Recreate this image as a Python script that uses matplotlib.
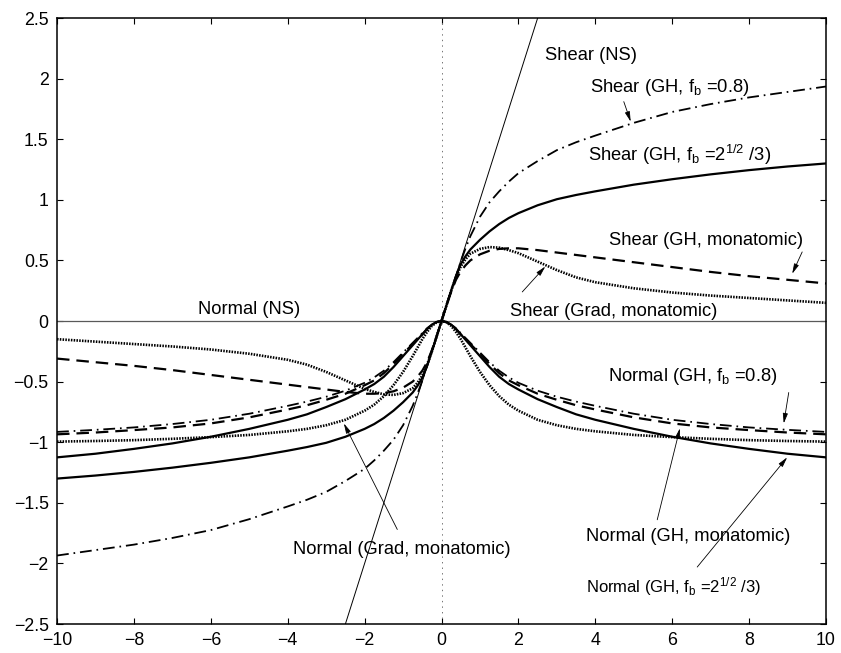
import matplotlib as mpl
import matplotlib.pyplot as plt
from matplotlib.ticker import FuncFormatter

# values for x >= 0; shear curves are odd, normal curves even
X_POS = [0, 0.125, 0.25, 0.375, 0.5, 0.625, 0.75, 1, 1.25, 1.5, 1.75, 2,
         2.5, 3, 3.5, 4, 5, 6, 7, 8, 9, 10]

SHEAR_GH_FB08 = [0, 0.125, 0.25, 0.37, 0.49, 0.60, 0.70, 0.86, 0.98, 1.07, 1.15, 1.22,
                 1.32, 1.41, 1.475, 1.53, 1.635, 1.725, 1.79, 1.845, 1.89, 1.935]
SHEAR_GH_FBSQ = [0, 0.125, 0.25, 0.37, 0.47, 0.535, 0.59, 0.67, 0.74, 0.80, 0.85, 0.89,
                 0.955, 1.005, 1.04, 1.07, 1.125, 1.17, 1.21, 1.245, 1.275, 1.30]
SHEAR_GH_MONO = [0, 0.125, 0.24, 0.34, 0.41, 0.46, 0.50, 0.55, 0.58, 0.595, 0.60, 0.60,
                 0.585, 0.565, 0.545, 0.525, 0.485, 0.445, 0.405, 0.37, 0.34, 0.31]
SHEAR_GRAD_MONO = [0, 0.125, 0.25, 0.36, 0.45, 0.51, 0.555, 0.595, 0.61, 0.605, 0.585, 0.56,
                   0.49, 0.42, 0.36, 0.32, 0.27, 0.235, 0.21, 0.19, 0.17, 0.15]

NORMAL_GH_FB08 = [0, -0.008, -0.03, -0.06, -0.10, -0.14, -0.18, -0.26, -0.34, -0.41, -0.465, -0.51,
                  -0.575, -0.625, -0.665, -0.70, -0.765, -0.815, -0.85, -0.878, -0.898, -0.915]
NORMAL_GH_FBSQ = [0, -0.008, -0.03, -0.065, -0.11, -0.155, -0.20, -0.29, -0.38, -0.46, -0.52, -0.565,
                  -0.645, -0.71, -0.77, -0.815, -0.89, -0.955, -1.01, -1.055, -1.095, -1.125]
NORMAL_GH_MONO = [0, -0.008, -0.03, -0.065, -0.11, -0.15, -0.19, -0.27, -0.355, -0.43, -0.49, -0.53,
                  -0.60, -0.65, -0.695, -0.73, -0.795, -0.845, -0.878, -0.90, -0.92, -0.935]
NORMAL_GRAD_MONO = [0, -0.01, -0.04, -0.09, -0.15, -0.22, -0.29, -0.42, -0.53, -0.62, -0.69, -0.74,
                    -0.815, -0.86, -0.89, -0.91, -0.94, -0.958, -0.972, -0.983, -0.99, -0.995]

NS_X = [-10, 10]
NS_SHEAR = [-10, 10]
NS_NORMAL = [0, 0]

X_TICKS = [-10, -8, -6, -4, -2, 0, 2, 4, 6, 8, 10]
Y_TICKS = [-2.5, -2, -1.5, -1, -0.5, 0, 0.5, 1, 1.5, 2, 2.5]


def full_x():
    return [-v for v in X_POS[::-1]] + X_POS[1:]


def odd(vals):
    return [-v for v in vals[::-1]] + vals[1:]


def even(vals):
    return vals[::-1] + vals[1:]


mpl.rcParams.update({
    "font.family": ["Liberation Sans", "DejaVu Sans"],
    "mathtext.fontset": "custom",
    "mathtext.rm": "Liberation Sans",
    "mathtext.it": "Liberation Sans:italic",
    "lines.scale_dashes": False,
})

fig = plt.figure(figsize=(8.41, 6.53), dpi=100)
ax = fig.add_axes([0.0678, 0.0444, 0.9144, 0.928])

xs = full_x()
DASHDOT = dict(color="k", lw=1.3, dashes=(8.5, 3.5, 1.2, 3.5))
SOLID = dict(color="k", lw=1.6)
DASHED = dict(color="k", lw=1.6, dashes=(9, 5))
DOTTED = dict(color="k", lw=1.9, dashes=(1.1, 0.9))

ax.axvline(0, color="0.45", lw=0.7, dashes=(1, 3))
ax.plot(NS_X, NS_NORMAL, color="0.35", lw=0.9)
ax.plot(NS_X, NS_SHEAR, color="k", lw=0.7)

ax.plot(xs, odd(SHEAR_GH_FB08), **DASHDOT)
ax.plot(xs, odd(SHEAR_GH_FBSQ), **SOLID)
ax.plot(xs, odd(SHEAR_GH_MONO), **DASHED)
ax.plot(xs, odd(SHEAR_GRAD_MONO), **DOTTED)
ax.plot(xs, even(NORMAL_GH_FB08), **DASHDOT)
ax.plot(xs, even(NORMAL_GH_FBSQ), **SOLID)
ax.plot(xs, even(NORMAL_GH_MONO), **DASHED)
ax.plot(xs, even(NORMAL_GRAD_MONO), **DOTTED)

ax.set_xlim(-10, 10)
ax.set_ylim(-2.5, 2.5)
ax.set_xticks(X_TICKS)
ax.set_yticks(Y_TICKS)
fmt = FuncFormatter(lambda v, _: ("%g" % v).replace("-", "\u2212"))
ax.xaxis.set_major_formatter(fmt)
ax.yaxis.set_major_formatter(fmt)
ax.tick_params(direction="in", top=True, right=True, length=4.5, width=0.8,
               labelsize=12.8, pad=6)
for sp in ax.spines.values():
    sp.set_linewidth(1.1)

FB = r"f$_{\rm b}$"
SQ = r"=2$^{1/2}$ /3"
labels = [
    ("Shear (NS)", 2.7, 2.2, 13.2, "left"),
    (f"Shear (GH, {FB} =0.8)", 3.85, 1.94, 13.2, "left"),
    (f"Shear (GH, {FB} {SQ})", 3.82, 1.37, 13.2, "left"),
    ("Shear (GH, monatomic)", 4.35, 0.68, 13.2, "left"),
    ("Shear (Grad, monatomic)", 1.79, 0.09, 13.2, "left"),
    ("Normal (NS)", -5.0, 0.105, 13.2, "center"),
    (f"Normal (GH, {FB} =0.8)", 4.33, -0.445, 13.2, "left"),
    ("Normal (GH, monatomic)", 3.75, -1.765, 13.2, "left"),
    (f"Normal (GH, {FB} {SQ})", 3.77, -2.19, 12, "left"),
    ("Normal (Grad, monatomic)", -3.86, -1.875, 13.2, "left"),
]
for txt, x, y, fs, ha in labels:
    ax.text(x, y - 0.05, txt, fontsize=fs, ha=ha, va="baseline")

arrows = [
    ((4.74, 1.81), (4.92, 1.645)),
    ((9.38, 0.57), (9.12, 0.39)),
    ((2.10, 0.24), (2.70, 0.45)),
    ((9.03, -0.59), (8.90, -0.845)),
    ((5.61, -1.64), (6.20, -0.885)),
    ((6.65, -2.03), (8.99, -1.125)),
    ((-1.15, -1.72), (-2.54, -0.845)),
]
for start, end in arrows:
    ax.annotate("", xy=end, xytext=start,
                arrowprops=dict(arrowstyle="-|>,head_length=0.6,head_width=0.15",
                                lw=0.6, color="k", shrinkA=0, shrinkB=0))

fig.savefig("out.png", dpi=100)
